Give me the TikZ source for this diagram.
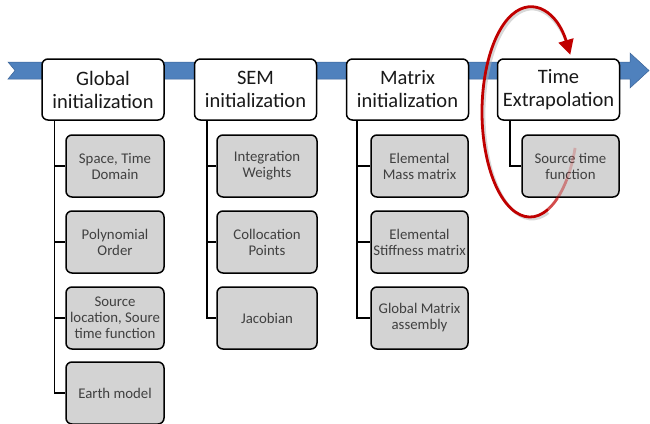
\documentclass[tikz,border=0pt]{standalone}
\usepackage{fontspec}
\setmainfont{Carlito}
\usetikzlibrary{arrows.meta}
\definecolor{bandblue}{HTML}{4F81BD}
\definecolor{banddark}{HTML}{3A6397}
\definecolor{childgrey}{HTML}{D3D3D3}
\definecolor{childtext}{HTML}{404040}
\definecolor{loopred}{HTML}{C00000}
\tikzset{
  topbox/.style={draw=black, line width=1.5pt, rounded corners=6pt, fill=white,
    minimum width=122pt, minimum height=61pt, align=center, inner sep=0pt,
    font=\fontsize{20.5}{23}\selectfont, text=black!90},
  childbox/.style={draw=black, line width=1.5pt, rounded corners=6pt, fill=childgrey,
    minimum width=98pt, minimum height=62pt, align=center, inner sep=0pt,
    font=\fontsize{14.8}{16}\selectfont, text=childtext},
  conn/.style={draw=black, line width=1.5pt},
  loop/.style={draw=loopred, line width=2.8pt},
}
\begin{document}
\begin{tikzpicture}[x=1pt,y=-1pt]
\useasboundingbox (0,0) rectangle (650,423);
% blue band arrow
\fill[bandblue, draw=banddark, line width=0.5pt]
  (8,62) -- (630,62) -- (630,53) -- (649,70.5) -- (630,88) -- (630,79) -- (8,79) -- (15,70.5) -- cycle;

% red loop shadow (behind the boxes)
\draw[line width=2.8pt, black!30, opacity=0.5]
  (532,114) ++(70:48 and 105) arc[start angle=70, end angle=320, x radius=48, y radius=105];

% top boxes
\node[topbox] (g) at (103,89.5) {Global\\initialization};
\node[topbox] (s) at (255.5,89.5) {SEM\\initialization};
\node[topbox] (m) at (407.5,89.5) {Matrix\\initialization};
\node[topbox] (t) at (558.5,89.5) {Time\\Extrapolation};

% children
\node[childbox] (g1) at (115,166) {Space, Time\\Domain};
\node[childbox] (g2) at (115,242) {Polynomial\\Order};
\node[childbox] (g3) at (115,318) {Source\\location, Soure\\time function};
\node[childbox] (g4) at (115,393) {Earth model};

\node[childbox, minimum width=100pt] (s1) at (267,166) {Integration\\Weights};
\node[childbox, minimum width=100pt] (s2) at (267,242) {Collocation\\Points};
\node[childbox, minimum width=100pt] (s3) at (267,318) {Jacobian};

\node[childbox, minimum width=97pt] (m1) at (419.5,166) {Elemental\\Mass matrix};
\node[childbox, minimum width=97pt] (m2) at (419.5,242) {Elemental\\Stiffness matrix};
\node[childbox, minimum width=97pt] (m3) at (419.5,318) {Global Matrix\\assembly};

\node[childbox, minimum width=97pt] (t1) at (570.5,166) {Source time\\function};

% connectors
\draw[conn] (g.south west) ++(13,0) coordinate (gx) |- (g4.west);
\draw[conn] (gx |- g1.west) -- (g1.west);
\draw[conn] (gx |- g2.west) -- (g2.west);
\draw[conn] (gx |- g3.west) -- (g3.west);

\draw[conn] (s.south west) ++(13,0) coordinate (sx) |- (s3.west);
\draw[conn] (sx |- s1.west) -- (s1.west);
\draw[conn] (sx |- s2.west) -- (s2.west);

\draw[conn] (m.south west) ++(11,0) coordinate (mx) |- (m3.west);
\draw[conn] (mx |- m1.west) -- (m1.west);
\draw[conn] (mx |- m2.west) -- (m2.west);

\draw[conn] (t.south west) ++(13,0) coordinate (tx) |- (t1.west);

% red loop: faded start over the box, then solid with arrowhead
\coordinate (lc) at (530,112);
\draw[loop, opacity=0.2] (lc) ++(20:48 and 105) arc[start angle=20, end angle=40, x radius=48, y radius=105];
\draw[loop, opacity=0.4] (lc) ++(40:48 and 105) arc[start angle=40, end angle=55, x radius=48, y radius=105];
\draw[loop, opacity=0.7] (lc) ++(55:48 and 105) arc[start angle=55, end angle=68, x radius=48, y radius=105];
\draw[loop, -{Triangle[length=15pt,width=15pt]}] (lc) ++(68:48 and 105) arc[start angle=68, end angle=327, x radius=48, y radius=105];
\end{tikzpicture}
\end{document}
